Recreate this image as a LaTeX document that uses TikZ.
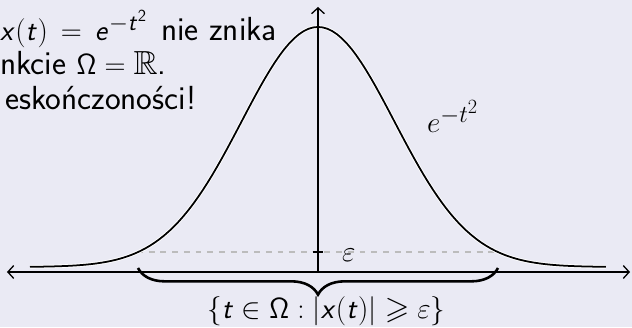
\documentclass[tikz,border=0pt]{standalone}
\usepackage{amsmath}
\usepackage{amssymb}
\usetikzlibrary{arrows.meta,decorations.pathreplacing,positioning}
\definecolor{slidebg}{RGB}{234,234,244}
\definecolor{epsgray}{RGB}{188,188,188}
\DeclareMathAlphabet{\mathsfit}{OT1}{cmss}{m}{sl}
\DeclareMathAlphabet{\mathsfup}{OT1}{cmss}{m}{n}
\newcommand{\sv}[1]{\mathsfit{#1}}

\begin{document}
\begin{tikzpicture}[>={Straight Barb[length=5pt,width=11pt]},
  axis/.style={line width=1.1pt},
  curve/.style={line width=1.5pt,preaction={draw=white,line width=3pt}},
  big/.style={font=\fontsize{28}{33}\selectfont,inner sep=0pt},
  txt/.style={font=\fontsize{28.5}{34}\selectfont\sffamily,inner sep=0pt,anchor=base west}]
  \fill[slidebg] (-9.54,-1.65) rectangle (9.42,8.16);
  \node[txt] (l1) at (-9.54,6.94) {$\sv{x}(\sv{t})\,=\,\sv{e}^{-\sv{t}^{\mathsfup{2}}}$\hspace{3pt} nie znika};
  \node[txt] (l2) at (-9.54,5.92) {nkcie $\mathsfup{\Omega}=\mathbb{R}$.};
  \node[txt] (l3) at (-9.39,4.86) {eskończoności!};
  \coordinate (o) at (0,0);
  \coordinate (l) at (-9.33,0);
  \coordinate (r) at (9.36,0);
  \coordinate (t) at (0,7.95);
  \coordinate (el) at (-5.43,0.6);
  \coordinate (er) at (5.43,0.6);
  \draw[epsgray,line width=1pt,dash pattern=on 5pt off 5pt] (el) -- (er);
  \draw[curve] plot[domain=-8.64:8.64,samples=121] (\x,{0.15+7.2*exp(-(\x/3.24)^2)});
  \draw[axis,<->] (l) -- (r);
  \draw[axis,->] (o) -- (t);
  \draw[line width=1.6pt] (-0.16,0.6) -- (0.16,0.6);
  \node[big,anchor=base west] (eps) at (0.72,0.33) {$\varepsilon$};
  \node[big,font=\fontsize{32}{38}\selectfont,anchor=base west] (gauss) at (3.27,4.17) {$e^{-t^2}$};
  \draw[line width=2.2pt,decorate,decoration={brace,mirror,amplitude=0.8cm}]
    (-5.4,0.12) -- (5.4,0.12);
  \node[big,font=\fontsize{27}{32}\selectfont,anchor=base] (set) at (0.25,-1.38)
    {$\{\sv{t}\in\mathsfup{\Omega}:|\sv{x}(\sv{t})|\geqslant\varepsilon\}$};
\end{tikzpicture}
\end{document}
